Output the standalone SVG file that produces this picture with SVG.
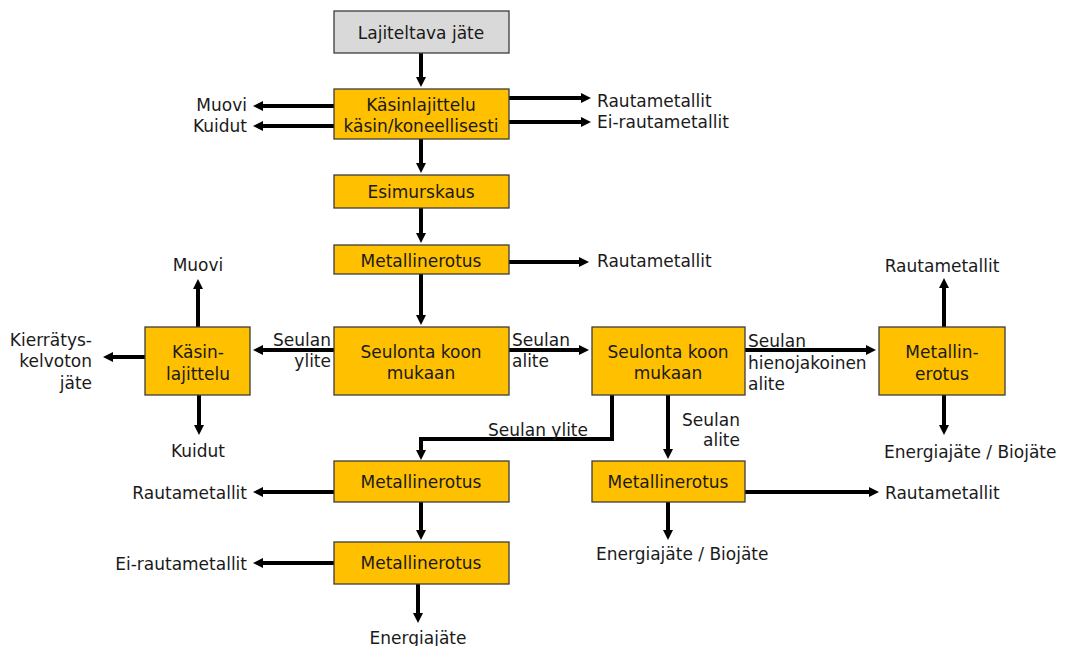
<svg xmlns="http://www.w3.org/2000/svg" width="1068" height="646" viewBox="0 0 1068 646">
<style>
.box{fill:#FFC000;stroke:#3c3c3c;stroke-width:1.3}
.start{fill:#d9d9d9;stroke:#3c3c3c;stroke-width:1.3}
text{font-family:"DejaVu Sans",Verdana,sans-serif;font-size:17px;fill:#1a1a1a}
.c{text-anchor:middle}
.e{text-anchor:end}
.conn line,.conn polyline{stroke:#000;stroke-width:4;fill:none;marker-end:url(#ah)}
</style>
<defs>
<marker id="ah" viewBox="0 0 10 10" refX="1" refY="5" markerWidth="10" markerHeight="10" markerUnits="userSpaceOnUse" orient="auto">
<path d="M0,0 L10,5 L0,10 z" fill="#000"/>
</marker>
</defs>
<rect width="1068" height="646" fill="#fff"/>
<g class="conn">
<line x1="421" y1="53" x2="421" y2="78"/>
<line x1="334" y1="106" x2="262" y2="106"/>
<line x1="334" y1="126" x2="262" y2="126"/>
<line x1="509" y1="98" x2="582" y2="98"/>
<line x1="509" y1="122" x2="582" y2="122"/>
<line x1="421" y1="139" x2="421" y2="164"/>
<line x1="421" y1="208" x2="421" y2="234"/>
<line x1="509" y1="262" x2="580" y2="262"/>
<line x1="421" y1="274" x2="421" y2="316"/>
<line x1="334" y1="350" x2="262" y2="350"/>
<line x1="198" y1="327" x2="198" y2="288"/>
<line x1="145" y1="357" x2="112" y2="357"/>
<line x1="199" y1="395" x2="199" y2="426"/>
<line x1="509" y1="350" x2="580" y2="350"/>
<line x1="745" y1="350" x2="867" y2="350"/>
<line x1="944" y1="327" x2="944" y2="287"/>
<line x1="944" y1="395" x2="944" y2="426"/>
<polyline points="612,395 612,439 421,439 421,451"/>
<line x1="668" y1="395" x2="668" y2="450"/>
<line x1="334" y1="492" x2="262" y2="492"/>
<line x1="421" y1="502" x2="421" y2="531"/>
<line x1="334" y1="563" x2="262" y2="563"/>
<line x1="418" y1="584" x2="418" y2="614"/>
<line x1="745" y1="492" x2="870" y2="492"/>
<line x1="668" y1="502" x2="668" y2="531"/>
</g>
<g id="n-lajiteltava"><rect class="start" x="334" y="11" width="175" height="42"/><text class="c" x="421" y="39">Lajiteltava jäte</text></g>
<g id="n-kasinlajittelu1"><rect class="box" x="334" y="89" width="175" height="50"/><text class="c" x="421" y="111">Käsinlajittelu</text><text class="c" x="421" y="132">käsin/koneellisesti</text></g>
<g id="n-esimurskaus"><rect class="box" x="334" y="175" width="175" height="33"/><text class="c" x="421" y="198">Esimurskaus</text></g>
<g id="n-metallinerotus1"><rect class="box" x="334" y="245" width="175" height="29"/><text class="c" x="421" y="267">Metallinerotus</text></g>
<g id="n-seulonta1"><rect class="box" x="334" y="327" width="175" height="68"/><text class="c" x="421" y="358">Seulonta koon</text><text class="c" x="421" y="379">mukaan</text></g>
<g id="n-kasinlajittelu2"><rect class="box" x="145" y="327" width="105" height="68"/><text class="c" x="198" y="358">Käsin-</text><text class="c" x="198" y="380">lajittelu</text></g>
<g id="n-seulonta2"><rect class="box" x="592" y="327" width="153" height="68"/><text class="c" x="668" y="358">Seulonta koon</text><text class="c" x="668" y="379">mukaan</text></g>
<g id="n-metallinerotus-oikea"><rect class="box" x="879" y="327" width="126" height="68"/><text class="c" x="942" y="358">Metallin-</text><text class="c" x="942" y="380">erotus</text></g>
<g id="n-metallinerotus3"><rect class="box" x="334" y="461" width="175" height="41"/><text class="c" x="421" y="488">Metallinerotus</text></g>
<g id="n-metallinerotus4"><rect class="box" x="334" y="542" width="175" height="42"/><text class="c" x="421" y="569">Metallinerotus</text></g>
<g id="n-metallinerotus5"><rect class="box" x="592" y="461" width="153" height="41"/><text class="c" x="668" y="488">Metallinerotus</text></g>
<g id="labels">
<text class="e" x="247" y="111">Muovi</text>
<text class="e" x="247" y="132">Kuidut</text>
<text x="597" y="107">Rautametallit</text>
<text x="597" y="128">Ei-rautametallit</text>
<text x="597" y="267">Rautametallit</text>
<text class="c" x="198" y="271">Muovi</text>
<text class="e" x="92" y="346">Kierrätys-</text>
<text class="e" x="92" y="367">kelvoton</text>
<text class="e" x="92" y="389">jäte</text>
<text class="c" x="198" y="457">Kuidut</text>
<text class="e" x="331" y="346">Seulan</text>
<text class="e" x="331" y="367">ylite</text>
<text x="512" y="346">Seulan</text>
<text x="512" y="367">alite</text>
<text x="748" y="347">Seulan</text>
<text x="748" y="369">hienojakoinen</text>
<text x="748" y="390">alite</text>
<text class="c" x="942" y="272">Rautametallit</text>
<text x="884" y="458">Energiajäte / Biojäte</text>
<text x="488" y="436">Seulan ylite</text>
<text class="e" x="740" y="426">Seulan</text>
<text class="e" x="740" y="446">alite</text>
<text x="885" y="499">Rautametallit</text>
<text x="596" y="560">Energiajäte / Biojäte</text>
<text class="e" x="247" y="499">Rautametallit</text>
<text class="e" x="247" y="570">Ei-rautametallit</text>
<text class="c" x="418" y="644">Energiajäte</text>
</g>
</svg>
